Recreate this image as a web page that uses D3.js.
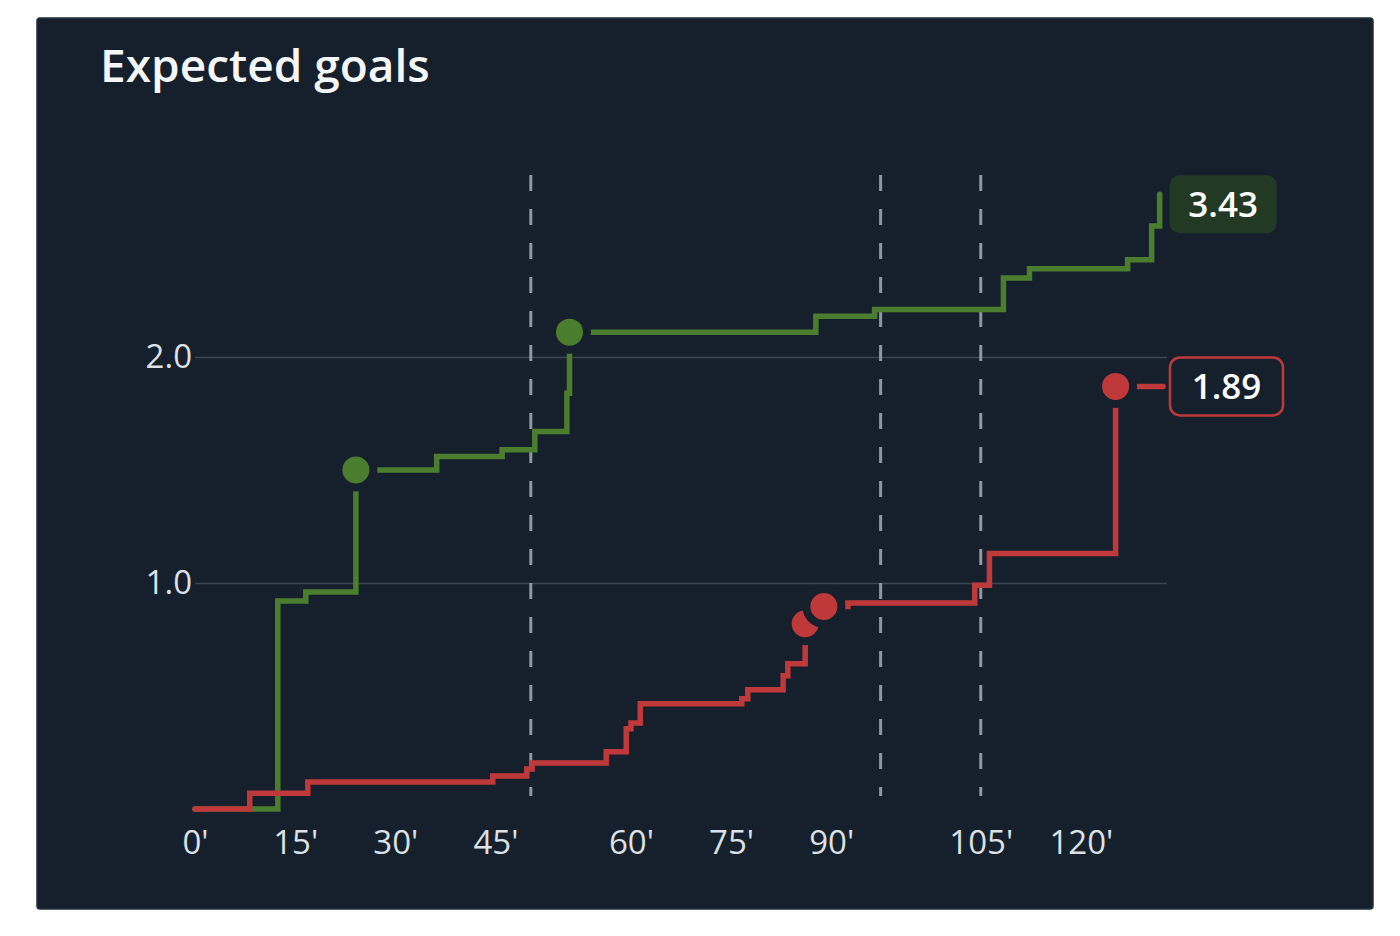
<!DOCTYPE html>
<html>
<head>
<meta charset="utf-8">
<script src="https://cdn.jsdelivr.net/npm/d3@7"></script>
<style>
  html, body { margin: 0; padding: 0; background: #ffffff; }
  svg { display: block; }
  text { font-family: "Open Sans", "Noto Sans", sans-serif; }
</style>
</head>
<body>
<svg id="chart" width="1400" height="936"></svg>
<script>
// 预期进球 · 累计 xG 阶梯图（含补时，时间轴按实际比赛时长展开）

// x 轴：实际经过的分钟数（含补时）
const TICK_AT = [0, 15, 30, 45, 65.3, 80.3, 95.3, 117.7, 132.7];
const TICK_LABELS = ["0'", "15'", "30'", "45'", "60'", "75'", "90'", "105'", "120'"];
const PERIOD_ENDS = [50.3, 102.7, 117.7];
const MATCH_END = 145;

const Y_TICKS = [1.0, 2.0];

// 主队（绿）累计 xG：[经过分钟, 累计值]
const HOME_XG = [
  [0, 0], [12.4, 0.92], [16.6, 0.96], [24.1, 1.5], [36.2, 1.56], [46.0, 1.59],
  [50.9, 1.67], [55.7, 1.84], [56.1, 2.11], [93.0, 2.18], [101.8, 2.21],
  [121.1, 2.35], [125.0, 2.39], [139.7, 2.43], [143.3, 2.58], [144.5, 2.72],
];
const HOME_GOALS = [[24.1, 1.5], [56.1, 2.11]];
const HOME_TOTAL = "3.43";

// 客队（红）
const AWAY_XG = [
  [0, 0], [8.2, 0.07], [16.9, 0.12], [44.6, 0.146], [49.7, 0.177], [50.5, 0.204],
  [61.6, 0.253], [64.6, 0.355], [65.3, 0.381], [66.7, 0.466], [81.9, 0.488],
  [82.8, 0.528], [88.1, 0.59], [88.8, 0.643], [91.4, 0.82], [94.2, 0.896],
  [97.8, 0.912], [116.8, 0.99], [119.0, 1.13], [137.9, 1.87], [MATCH_END, 1.87],
];
const AWAY_GOALS = [[91.4, 0.82], [94.2, 0.896], [137.9, 1.87]];
const AWAY_TOTAL = "1.89";

const BG = "#16202c";
const GREEN = "#4b7d2e";
const RED = "#c0393a";

const svg = d3.select("#chart");

// 面板
svg.append("rect").attr("x", 37).attr("y", 18).attr("width", 1336).attr("height", 891)
  .attr("rx", 3).attr("fill", BG).attr("stroke", "#22313f").attr("stroke-width", 1.5);

svg.append("text").attr("x", 100).attr("y", 82)
  .attr("fill", "#f4f6f8").attr("font-size", 46).attr("font-weight", 600)
  .text("Expected goals");

const x = d3.scaleLinear().domain([0, MATCH_END]).range([195, 1163]);
const y = d3.scaleLinear().domain([0, 2]).range([809, 357]);

// 横向网格 + y 刻度
const yAxis = svg.append("g").attr("transform", "translate(195,0)")
  .call(d3.axisLeft(y).tickValues(Y_TICKS).tickFormat(d3.format(".1f")).tickSize(-972).tickPadding(3));
yAxis.select(".domain").remove();
yAxis.selectAll(".tick line").attr("stroke", "#3a4652").attr("stroke-width", 1.5);
yAxis.selectAll(".tick text").attr("fill", "#dde1e5").attr("font-size", 33)
  .attr("font-family", "'Open Sans', sans-serif");

// x 刻度
const xAxis = svg.append("g").attr("transform", "translate(0,820)")
  .call(d3.axisBottom(x).tickValues(TICK_AT).tickFormat((d, i) => TICK_LABELS[i]).tickSize(0).tickPadding(0));
xAxis.select(".domain").remove();
xAxis.selectAll(".tick text").attr("fill", "#dde1e5").attr("font-size", 33)
  .attr("font-family", "'Open Sans', sans-serif").attr("dy", "1.02em");

// 半场分隔虚线
svg.append("g").selectAll("line").data(PERIOD_ENDS).join("line")
  .attr("x1", (d) => x(d)).attr("x2", (d) => x(d))
  .attr("y1", 175).attr("y2", 796)
  .attr("stroke", "#9097a0").attr("stroke-width", 3).attr("stroke-dasharray", "16 18");

const line = d3.line().x((d) => x(d[0])).y((d) => y(d[1])).curve(d3.curveStepAfter);

function drawSeries(data, goals, color) {
  svg.append("path").datum(data).attr("d", line)
    .attr("fill", "none").attr("stroke", color).attr("stroke-width", 5.5)
    .attr("stroke-linejoin", "miter").attr("stroke-linecap", "round");
  const g = svg.append("g");
  goals.forEach((d) => {
    g.append("circle").attr("cx", x(d[0])).attr("cy", y(d[1])).attr("r", 21.5).attr("fill", BG);
    g.append("circle").attr("cx", x(d[0])).attr("cy", y(d[1])).attr("r", 13.5).attr("fill", color);
  });
}
drawSeries(HOME_XG, HOME_GOALS, GREEN);
drawSeries(AWAY_XG, AWAY_GOALS, RED);

// 末端数值标签
function endLabel(data, txt, opts) {
  const last = data[data.length - 1];
  const cx = x(last[0]) + opts.dx + opts.w / 2;
  const cy = y(last[1]) + opts.dy;
  svg.append("rect").attr("x", cx - opts.w / 2).attr("y", cy - 29)
    .attr("width", opts.w).attr("height", 58).attr("rx", 10)
    .attr("fill", opts.fill).attr("stroke", opts.stroke || "none").attr("stroke-width", 2.5);
  svg.append("text").attr("x", cx).attr("y", cy).attr("dy", "0.35em")
    .attr("text-anchor", "middle").attr("fill", "#ffffff")
    .attr("font-size", 35).attr("font-weight", 600).text(txt);
}
endLabel(HOME_XG, HOME_TOTAL, { dx: 10, dy: 10, w: 107, fill: "#223a23" });
endLabel(AWAY_XG, AWAY_TOTAL, { dx: 7, dy: 0, w: 113, fill: BG, stroke: RED });
</script>
</body>
</html>
